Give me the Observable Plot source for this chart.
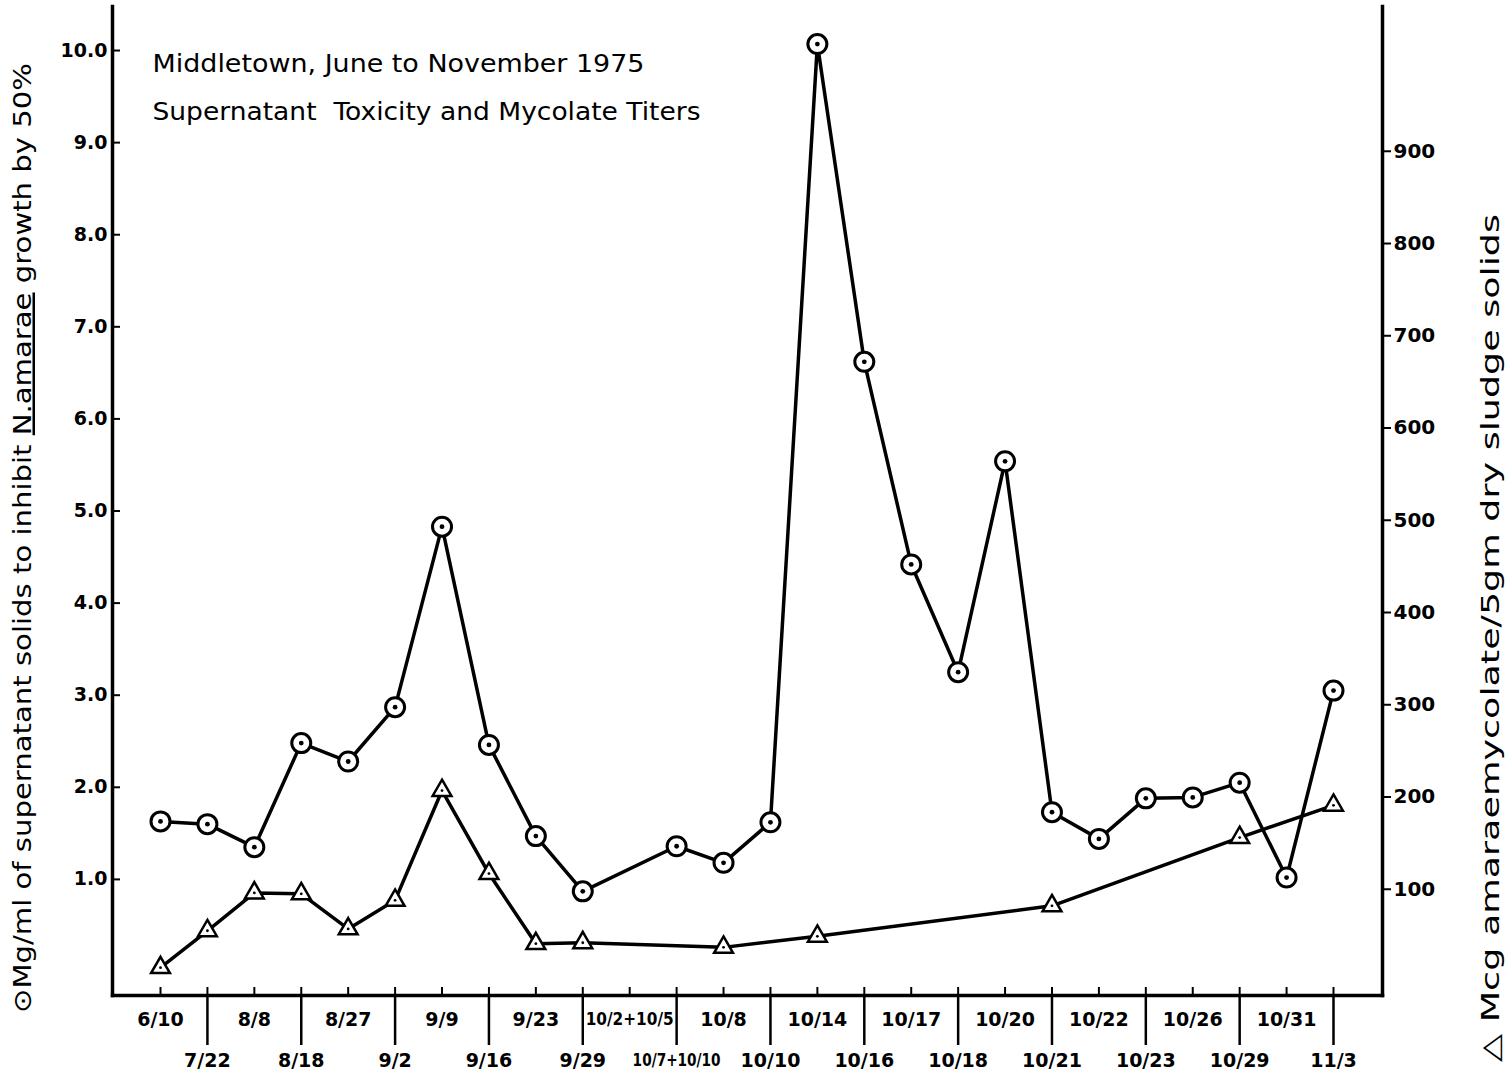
<!DOCTYPE html>
<html><head><meta charset="utf-8">
<script src="https://cdn.jsdelivr.net/npm/d3@7"></script>
<script src="https://cdn.jsdelivr.net/npm/@observablehq/plot@0.6"></script>
<style>body{margin:0;background:#fff}</style>
</head><body><div id="chart"></div>
<script>
// ---- data ----
const categories = ["6/10","7/22","8/8","8/18","8/27","9/2","9/9","9/16","9/23","9/29","10/2+10/5","10/7+10/10","10/8","10/10","10/14","10/16","10/17","10/18","10/20","10/21","10/22","10/23","10/26","10/29","10/31","11/3"];
const toxDates  = ["6/10","7/22","8/8","8/18","8/27","9/2","9/9","9/16","9/23","9/29","10/7+10/10","10/8","10/10","10/14","10/16","10/17","10/18","10/20","10/21","10/22","10/23","10/26","10/29","10/31","11/3"];
const toxValues = [1.63,1.60,1.35,2.48,2.28,2.87,4.83,2.46,1.47,0.87,1.36,1.18,1.62,10.07,6.62,4.42,3.25,5.54,1.73,1.44,1.88,1.89,2.05,1.02,3.05];
const mycDates  = ["6/10","7/22","8/8","8/18","8/27","9/2","9/9","9/16","9/23","9/29","10/8","10/14","10/21","10/29","11/3"];
const mycValues = [15,55,96,95,57,88,207,117,41,42,37,49,82,156,191];
const leftTicks = [1,2,3,4,5,6,7,8,9,10];
const rightTicks = [100,200,300,400,500,600,700,800,900];
const titleLine1 = "Middletown, June to November 1975";
const titleLine2 = "Supernatant  Toxicity and Mycolate Titers";
const leftLabelParts = ["\u2299Mg/ml of supernatant solids to inhibit ", "N.amarae", " growth by 50%"];
const rightLabel = "\u25B3 Mcg amaraemycolate/5gm dry sludge solids";

// right axis is drawn against the left scale: right value r sits at left value toLeft(r)
const toLeft = r => (r * 0.9225 - 10) / 92.1;
const toRight = v => (v * 92.1 + 10) / 0.9225;

const tox = toxDates.map((d, i) => ({date: d, value: toxValues[i]}));
const myc = mycDates.map((d, i) => ({date: d, value: toLeft(mycValues[i])}));
const evenCats = categories.filter((d, i) => i % 2 === 0);
const oddCats = categories.filter((d, i) => i % 2 === 1);

// ---- layout ----
const W = 1511, H = 1079;
const mL = 112, mR = 129, mT = 6, mB = 84;
const frameW = W - mL - mR, frameH = H - mT - mB;
const font = "DejaVu Sans";

const chart = Plot.plot({
  width: W, height: H,
  marginLeft: mL, marginRight: mR, marginTop: mT, marginBottom: mB,
  style: {fontFamily: font, fontSize: "18px", background: "white", color: "black", overflow: "visible"},
  x: {type: "point", domain: categories, padding: 0, round: false, insetLeft: 48, insetRight: 49, label: null},
  y: {domain: [-0.2606, 10.478], label: null},
  marks: [
    Plot.frame({anchor: "left", strokeWidth: 3.5}),
    Plot.frame({anchor: "right", strokeWidth: 3.5}),
    Plot.frame({anchor: "bottom", strokeWidth: 3.5}),
    // small inward ticks on the bottom axis
    Plot.tickX(categories, {x: d => d, insetTop: frameH - 8, strokeWidth: 2}),
    // separators + lower row labels
    Plot.axisX(oddCats, {anchor: "bottom", tickSize: 50, tickPadding: 8, strokeWidth: 2.5, fontSize: 19, fontWeight: "bold", label: null, className: "xlab"}),
    // upper row labels
    Plot.axisX(evenCats, {anchor: "bottom", tickSize: 0, tickPadding: 17, fontSize: 19, fontWeight: "bold", label: null, className: "xlab"}),
    // left axis
    Plot.tickY(leftTicks, {y: d => d, insetRight: frameW - 8, strokeWidth: 2}),
    Plot.axisY(leftTicks, {anchor: "left", tickSize: 0, tickPadding: 5, tickFormat: d3.format(".1f"), fontSize: 19, fontWeight: "bold", label: null}),
    // right axis
    Plot.axisY(rightTicks.map(toLeft), {anchor: "right", tickSize: 8, tickPadding: 3, strokeWidth: 2, tickFormat: d => String(Math.round(toRight(d))), fontSize: 20, fontWeight: "bold", label: null}),
    // series
    Plot.line(myc, {x: "date", y: "value", stroke: "black", strokeWidth: 3.5}),
    Plot.line(tox, {x: "date", y: "value", stroke: "black", strokeWidth: 3.5}),
    Plot.dot(myc, {x: "date", y: "value", symbol: "triangle", r: 7, fill: "white", stroke: "black", strokeWidth: 2.5}),
    Plot.dot(myc, {x: "date", y: "value", r: 1.4, fill: "black"}),
    Plot.dot(tox, {x: "date", y: "value", r: 9.5, fill: "white", stroke: "black", strokeWidth: 3}),
    Plot.dot(tox, {x: "date", y: "value", r: 2.4, fill: "black"}),
    // titles
    Plot.text([titleLine1], {text: d => d, frameAnchor: "top-left", dx: 40, dy: 57, textAnchor: "start", lineAnchor: "middle", fontSize: 25, className: "title1"}),
    Plot.text([titleLine2], {text: d => d, frameAnchor: "top-left", dx: 40, dy: 105, textAnchor: "start", lineAnchor: "middle", fontSize: 25, className: "title2"}),
    // axis titles
    Plot.text([leftLabelParts.join("")], {text: d => d, frameAnchor: "left", dx: -90, dy: 37, rotate: -90, textAnchor: "middle", lineAnchor: "middle", fontSize: 25, className: "leftlabel"}),
    Plot.text([rightLabel], {text: d => d, frameAnchor: "right", dx: 108, dy: 137, rotate: -90, textAnchor: "middle", lineAnchor: "middle", fontSize: 25, className: "rightlabel"})
  ]
});
document.getElementById("chart").appendChild(chart);

// fit text lengths and underline the species name
const svg = d3.select(chart);
function fit(cls, len) {
  svg.selectAll(`.${cls} text`).attr("textLength", len).attr("lengthAdjust", "spacingAndGlyphs");
}
fit("title1", 492);
fit("title2", 548);
fit("rightlabel", 848);
svg.selectAll(".xlab text").each(function() {
  const t = this.textContent;
  if (t.length > 6) d3.select(this).attr("font-size", 17).attr("textLength", 88).attr("lengthAdjust", "spacingAndGlyphs");
});
const lt = svg.select(".leftlabel text");
lt.text(null);
leftLabelParts.forEach((p, i) => {
  const ts = lt.append("tspan").text(p);
  if (i === 1) ts.style("text-decoration", "underline");
});
lt.attr("textLength", 950).attr("lengthAdjust", "spacingAndGlyphs");
</script>
</body></html>
